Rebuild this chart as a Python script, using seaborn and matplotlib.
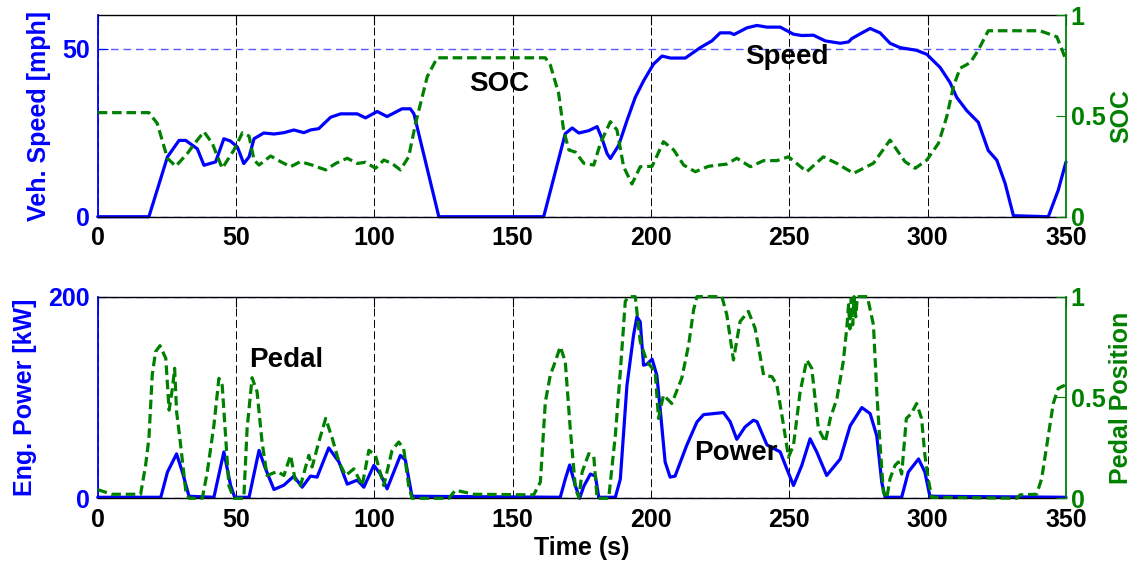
import matplotlib
matplotlib.use("Agg")
import matplotlib.pyplot as plt
import pandas as pd
import seaborn as sns

# ---- drive-cycle traces -------------------------------------------------
speed_t = [0, 18.5, 25.2, 29.4, 31.8, 36, 38.4, 42.6, 45.6, 48,
           50.5, 52.8, 54.7, 56.5, 60, 63.7, 67.3, 70.9, 74.5, 76.9,
           79.9, 84.2, 87.8, 93.8, 96.8, 101, 104.6, 110, 113, 114.3,
           123.3, 161.2, 169, 171.5, 173.9, 177.5, 180.5, 182.3, 184.1, 185.3,
           188.3, 191.3, 194.3, 197.3, 200.9, 204, 207, 212.4, 217.8, 222,
           225, 228.6, 230, 234.7, 238.3, 241.9, 246.7, 251.5, 254.5, 258.7,
           263, 268.4, 271.4, 272.6, 275.6, 279.2, 282.8, 286.4, 290, 296,
           299.7, 304.5, 308.1, 310.5, 314.1, 318.3, 321.9, 325, 328, 331,
           343.6, 347.2, 350]
speed_mph = [0, 0, 17.8, 22.7, 22.7, 20.2, 15.3, 16.3, 23.2, 22.5,
             20.7, 15.8, 17.8, 23.2, 24.9, 24.6, 25, 25.8, 25, 25.8,
             26.2, 29.6, 30.6, 30.6, 29.4, 31.3, 29.8, 32.1, 32.1, 30.6,
             0, 0, 24.7, 26.4, 24.9, 25.6, 26.8, 23.2, 18.8, 17.3,
             21.2, 28.6, 35.5, 40.4, 45.4, 47.8, 47.2, 47.2, 50.3, 52.3,
             54.7, 54.7, 54.2, 56.2, 56.9, 56.4, 56.4, 54.3, 53.9, 54,
             52.3, 51.6, 52, 53, 54.4, 56, 54.7, 51.6, 50.3, 49.5,
             48.3, 44.4, 39.9, 35.5, 31.6, 28.1, 19.7, 16.8, 9.9, 0.3,
             0, 7.9, 16.3]

soc_t = [0, 18.5, 21.5, 25.2, 28.2, 32.4, 36, 38.4, 41.4, 45,
         49.2, 52.3, 54.7, 56.5, 58.3, 62.5, 66.1, 69.7, 73.3, 77.5,
         82.4, 86, 90.2, 93.8, 96.8, 100.4, 103.4, 106.4, 109.4, 112.4,
         114.9, 116.7, 119.1, 122.7, 161.8, 163.6, 166.6, 168.4, 170.3, 172.7,
         175.7, 179.3, 181.7, 185.3, 187.7, 190.1, 193.1, 196.1, 200.4, 204.5,
         208.2, 211.8, 216, 220.8, 227.4, 231, 235.9, 240.7, 245.5, 249.7,
         256.3, 262.3, 267.2, 273.2, 280.4, 286.4, 291.8, 295.5, 299.7, 303.9,
         306.9, 309.3, 311.7, 315.4, 318.3, 321.9, 340.6, 346.7, 350]
soc = [0.516, 0.516, 0.463, 0.29, 0.25, 0.314, 0.38, 0.421, 0.364, 0.24,
       0.33, 0.416, 0.40, 0.281, 0.256, 0.301, 0.273, 0.248, 0.273, 0.256,
       0.232, 0.264, 0.29, 0.264, 0.27, 0.24, 0.281, 0.264, 0.232, 0.297,
       0.463, 0.562, 0.694, 0.788, 0.788, 0.752, 0.612, 0.43, 0.331, 0.32,
       0.265, 0.256, 0.364, 0.471, 0.43, 0.248, 0.162, 0.248, 0.25, 0.372,
       0.331, 0.256, 0.223, 0.25, 0.261, 0.29, 0.248, 0.278, 0.278, 0.297,
       0.223, 0.297, 0.264, 0.215, 0.265, 0.38, 0.273, 0.24, 0.281, 0.364,
       0.496, 0.645, 0.736, 0.764, 0.826, 0.922, 0.922, 0.892, 0.777]

power_t = [0, 22.8, 25.2, 28.5, 30.6, 33, 42, 45.6, 48, 49.5,
           54.7, 58.3, 60.7, 63.7, 67.3, 70.9, 73.9, 76.9, 79.3, 83.5,
           87.2, 90.2, 93.8, 96.2, 99.8, 102.2, 104.6, 109.4, 111.2, 113.6,
           167.2, 169, 170.6, 172.7, 174.2, 175.7, 178.1, 179.9, 181.1, 187.1,
           188.9, 191.3, 193.7, 194.9, 196.1, 197.3, 198.5, 200.4, 202.1, 203.3,
           205.1, 206.9, 208.7, 212.9, 216.6, 219, 226.2, 228.6, 231, 234,
           237, 238.3, 241.9, 246.7, 249.1, 251.5, 254.5, 257.5, 259.9, 263.5,
           268.4, 272, 276.2, 279.2, 281.6, 283.4, 284.6, 290.6, 293, 296.7,
           299, 300.8, 350]
power_kw = [1, 1, 26, 44, 26, 2, 1, 46, 13, 1,
            1, 47.5, 29, 8.7, 13, 22, 11, 22, 21, 50,
            36, 14, 18, 11, 32.6, 24, 9.4, 42.5, 38, 2,
            1, 19, 33, 12, 0, 12, 24, 22, 1, 1,
            19, 112, 162, 180, 175, 132, 133, 138, 122, 89,
            36, 21, 22, 52.5, 75.7, 83, 85, 76, 58.5, 70.8,
            77.4, 76, 53, 46, 29, 12.7, 32.6, 59, 46, 22.6,
            39, 72, 90, 84, 62, 16, 1, 1, 26, 39,
            26, 2, 1]

pedal_t = [0, 5, 15.5, 17.3, 18.5, 19.7, 20.9, 22.5, 24.6, 25.8,
           27, 27.8, 28.5, 29.7, 31.8, 33, 37.8, 39.6, 42, 43.8,
           45, 46.2, 47.4, 49.2, 52.8, 54, 55.8, 57.6, 59.4, 61.2,
           64.9, 67.3, 69.7, 71.3, 73.3, 76.3, 77.5, 79.9, 82.4, 84.8,
           87.2, 89.6, 92.6, 95.6, 98, 100.4, 103.4, 106.4, 108.8, 110.6,
           112.4, 113.6, 126.9, 129.3, 136, 157.6, 160, 161.8, 163.6, 165.4,
           167.2, 169, 170.8, 172.7, 173.9, 175.1, 177.5, 179.3, 180.5, 184.7,
           187.1, 188.9, 190.7, 191.9, 194.3, 196.1, 198.5, 201.5, 202.7, 204.5,
           207.5, 211.1, 213.6, 215.4, 216.6, 225.6, 227.4, 229.8, 232.2, 235.2,
           237.6, 240.7, 243.7, 245.5, 247.9, 249.7, 251.5, 253.9, 256.3, 258.1,
           260.5, 263, 264.8, 267.2, 269.5, 270.8, 271.4, 271.9, 272.4, 272.9,
           273.4, 274, 274.6, 278.2, 280.4, 281.6, 282.8, 284, 285.2, 286.4,
           288.2, 289.4, 290.6, 292.3, 294.1, 296, 297.8, 299, 300.2, 301.4,
           332.2, 333.4, 339.4, 341.2, 343.6, 345.4, 347.2, 349.6]
pedal = [0.043, 0.02, 0.02, 0.163, 0.296, 0.611, 0.727, 0.757, 0.694, 0.437,
         0.545, 0.645, 0.43, 0.296, 0.04, 0, 0, 0.13, 0.362, 0.595,
         0.56, 0.312, 0.063, 0, 0, 0.346, 0.598, 0.528, 0.279, 0.113,
         0.133, 0.113, 0.213, 0.096, 0.063, 0.213, 0.155, 0.279, 0.396, 0.296,
         0.18, 0.113, 0.146, 0.063, 0.238, 0.213, 0.063, 0.238, 0.279, 0.245,
         0.063, 0, 0, 0.04, 0.02, 0.017, 0.08, 0.478, 0.611, 0.678,
         0.752, 0.678, 0.346, 0.047, 0.005, 0.13, 0.221, 0.21, 0, 0,
         0.312, 0.628, 0.977, 1.0, 1.0, 0.777, 0.678, 0.628, 0.396, 0.512,
         0.47, 0.595, 0.761, 0.935, 1.0, 1.0, 0.91, 0.686, 0.877, 0.927,
         0.844, 0.611, 0.603, 0.562, 0.362, 0.204, 0.263, 0.528, 0.686, 0.645,
         0.346, 0.279, 0.396, 0.495, 0.678, 0.85, 0.96, 0.84, 0.99, 0.86,
         1.0, 0.9, 1.0, 1.0, 0.86, 0.528, 0.263, 0.03, 0, 0.097,
         0.163, 0.18, 0.12, 0.396, 0.42, 0.47, 0.396, 0.213, 0.097, 0.005,
         0, 0.017, 0.02, 0.097, 0.312, 0.47, 0.545, 0.561]

time_ticks = [0, 50, 100, 150, 200, 250, 300, 350]
frac_ticks = [0, 0.5, 1]
frac_labels = ["0", "0.5", "1"]

# ---- style --------------------------------------------------------------
sns.set_theme(style="white")
plt.rcParams["font.family"] = ["Liberation Sans", "DejaVu Sans"]
plt.rcParams["font.weight"] = "bold"
plt.rcParams["axes.labelweight"] = "bold"

BLUE = "#0000ff"
GREEN = "#008000"
FS = 18
LW = 2.3

fig = plt.figure(figsize=(11.39, 5.67), dpi=100)
ax_top = fig.add_axes([0.0858, 0.6178, 0.8501, 0.3557])
ax_bot = fig.add_axes([0.0858, 0.1212, 0.8501, 0.3556])


def dual_panel(ax, lt, lv, rt, rv, ylim, yticks, left_label, right_label, left_pad):
    df_l = pd.DataFrame({"t": lt, "v": lv})
    df_r = pd.DataFrame({"t": rt, "v": rv})
    sns.lineplot(data=df_l, x="t", y="v", ax=ax, color=BLUE, linewidth=LW,
                 estimator=None, sort=False, clip_on=False)
    ax2 = ax.twinx()
    sns.lineplot(data=df_r, x="t", y="v", ax=ax2, color=GREEN, linewidth=LW,
                 estimator=None, sort=False, clip_on=False)
    ax2.lines[0].set_dashes([3.0, 1.5])

    ax.set_xlim(0, 350)
    ax.set_xticks(time_ticks)
    ax.set_ylim(*ylim)
    ax.set_yticks(yticks)
    ax2.set_ylim(0, 1)
    ax2.set_yticks(frac_ticks)
    ax2.set_yticklabels(frac_labels)

    ax.tick_params(axis="x", direction="in", length=7, width=0.8, top=True,
                   pad=7, labelsize=FS, colors="black")
    ax.tick_params(axis="y", direction="in", length=7, width=0.8,
                   pad=5.5, labelsize=FS, colors=BLUE)
    ax2.tick_params(axis="y", direction="in", length=7, width=0.8,
                    pad=3.4, labelsize=FS, colors=GREEN)

    # dashed grid: black verticals at the time ticks, blue horizontals
    ax2.grid(False)
    ax.xaxis.grid(True)
    ax.yaxis.grid(True)
    ax.xaxis.set_tick_params(grid_color="black", grid_linewidth=0.7,
                             grid_alpha=1.0, grid_linestyle=(0, (8.2, 3.5)))
    ax.yaxis.set_tick_params(grid_color="#5a5aff", grid_linewidth=1.0,
                             grid_alpha=1.0, grid_linestyle=(0, (5.5, 3.5)))

    for side in ("top", "bottom"):
        ax.spines[side].set_color("black")
        ax.spines[side].set_linewidth(1.0)
        ax2.spines[side].set_visible(False)
    ax.spines["left"].set_color(BLUE)
    ax.spines["left"].set_linewidth(1.3)
    ax.spines["right"].set_visible(False)
    ax2.spines["left"].set_visible(False)
    ax2.spines["right"].set_color(GREEN)
    ax2.spines["right"].set_linewidth(1.3)

    ax.set_xlabel("")
    ax.set_ylabel(left_label, color=BLUE, fontsize=FS, labelpad=left_pad)
    ax2.set_ylabel(right_label, color=GREEN, fontsize=FS, labelpad=2.5)
    return ax2


top_r = dual_panel(ax_top, speed_t, speed_mph, soc_t, soc, (0, 60), [0, 50],
                   "Veh. Speed [mph]", "SOC", 8)
bot_r = dual_panel(ax_bot, power_t, power_kw, pedal_t, pedal, (0, 200), [0, 200],
                   "Eng. Power [kW]", "Pedal Position", 8)

ax_bot.set_xlabel("Time (s)", fontsize=FS, labelpad=3, color="black")

# curve names written inside the panels
for ax_r, ax_l, x, y, s in [(top_r, ax_top, 145, 37.5, "SOC"),
                            (top_r, ax_top, 249, 45.4, "Speed"),
                            (bot_r, ax_bot, 68, 130.6, "Pedal"),
                            (bot_r, ax_bot, 230.8, 38, "Power")]:
    ax_r.text(x, y, s, transform=ax_l.transData, ha="center", va="baseline",
              fontsize=20, fontweight="bold", color="black", zorder=10)

fig.savefig("out.png", dpi=100)
